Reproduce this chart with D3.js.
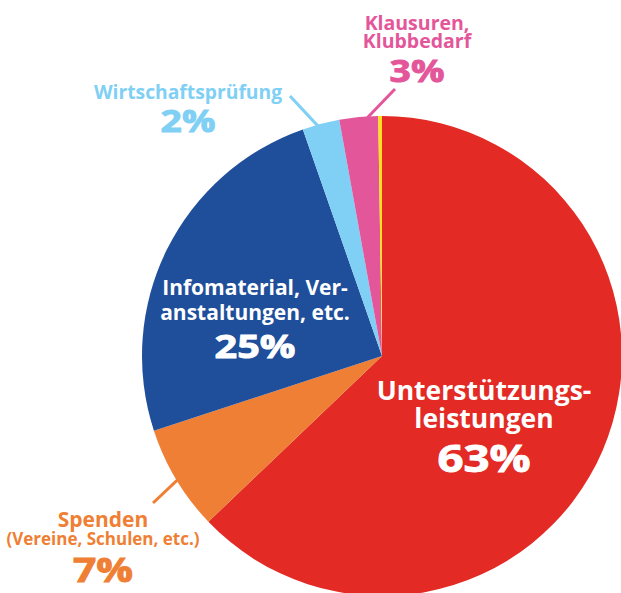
<!DOCTYPE html>
<html>
<head>
<meta charset="UTF-8">
<style>
body { margin: 0; background: #fff; }
text { font-family: "Open Sans", "Lato", sans-serif; font-weight: 700; }
</style>
</head>
<body>
<svg width="621" height="593"></svg>
<script src="https://cdn.jsdelivr.net/npm/d3@7"></script>
<script>
// shares (percent of full circle)
var categories = ["Unterstützungsleistungen", "Spenden", "Infomaterial", "Wirtschaftsprüfung", "Klausuren", "Sonstiges"];
var values = [62.9, 7.1, 24.7, 2.5, 2.6, 0.25];
var colors = ["#e32a24", "#ef7f34", "#1f4e9a", "#80cff4", "#e4569a", "#ffe01a"];
var pctLabels = ["63%", "7%", "25%", "2%", "3%", ""];

var svg = d3.select("svg"),
    cx = 382, cy = 356, r = 240;

var pie = d3.pie().sort(null).value(function(d) { return d; });
var arc = d3.arc().innerRadius(0).outerRadius(r);
var arcs = pie(values);

var g = svg.append("g").attr("transform", "translate(" + cx + "," + cy + ")");

g.selectAll("path")
    .data(arcs)
  .enter().append("path")
    .attr("d", arc)
    .attr("fill", function(d, i) { return colors[i]; });

// point on the rim at fraction t of a slice
function rim(d, t, rr) {
  var a = d.startAngle + (d.endAngle - d.startAngle) * t;
  return [cx + rr * Math.sin(a), cy - rr * Math.cos(a)];
}

// leader lines: slice index, fraction along slice, outer end
var leaders = [
  {i: 1, t: 0.49, to: [153, 503]},
  {i: 3, t: 0.42, to: [290, 96]},
  {i: 4, t: 0.7, to: [395, 89]}
];
leaders.forEach(function(l) {
  var p = rim(arcs[l.i], l.t, r - 2);
  svg.append("line")
      .attr("x1", p[0]).attr("y1", p[1])
      .attr("x2", l.to[0]).attr("y2", l.to[1])
      .attr("stroke", colors[l.i])
      .attr("stroke-width", 3);
});

// label blocks: [text, baseline y, size, is percent]
var labels = [
  {i: 0, x: 484, fill: "#fff", lines: [["Unterstützungs-", 400, 26.5], ["leistungen", 428, 26.5], [pctLabels[0], 472, 38, 1]]},
  {i: 2, x: 255, fill: "#fff", lines: [["Infomaterial, Ver-", 295, 21], ["anstaltungen, etc.", 320, 21], [pctLabels[2], 358, 33, 1]]},
  {i: 1, x: 103, fill: colors[1], lines: [["Spenden", 527, 21], ["(Vereine, Schulen, etc.)", 545, 17], [pctLabels[1], 582, 34, 1]]},
  {i: 3, x: 188, fill: colors[3], lines: [["Wirtschaftsprüfung", 99, 19.3], [pctLabels[3], 132, 31, 1]]},
  {i: 4, x: 417, fill: colors[4], lines: [["Klausuren,", 30, 19.5], ["Klubbedarf", 48, 19.5], [pctLabels[4], 82, 31, 1]]}
];

labels.forEach(function(lb) {
  lb.lines.forEach(function(ln) {
    // percent figures are set wider and heavier, like the original's numerals
    var sx = ln[3] ? 1.2 : 1;
    svg.append("text")
        .attr("transform", "translate(" + lb.x + "," + ln[1] + ") scale(" + sx + ",1)")
        .attr("text-anchor", "middle")
        .attr("fill", lb.fill)
        .attr("stroke", ln[3] ? lb.fill : "none")
        .attr("stroke-width", 0.9)
        .style("font-size", ln[2] + "px")
        .text(ln[0]);
  });
});
</script>
</body>
</html>
